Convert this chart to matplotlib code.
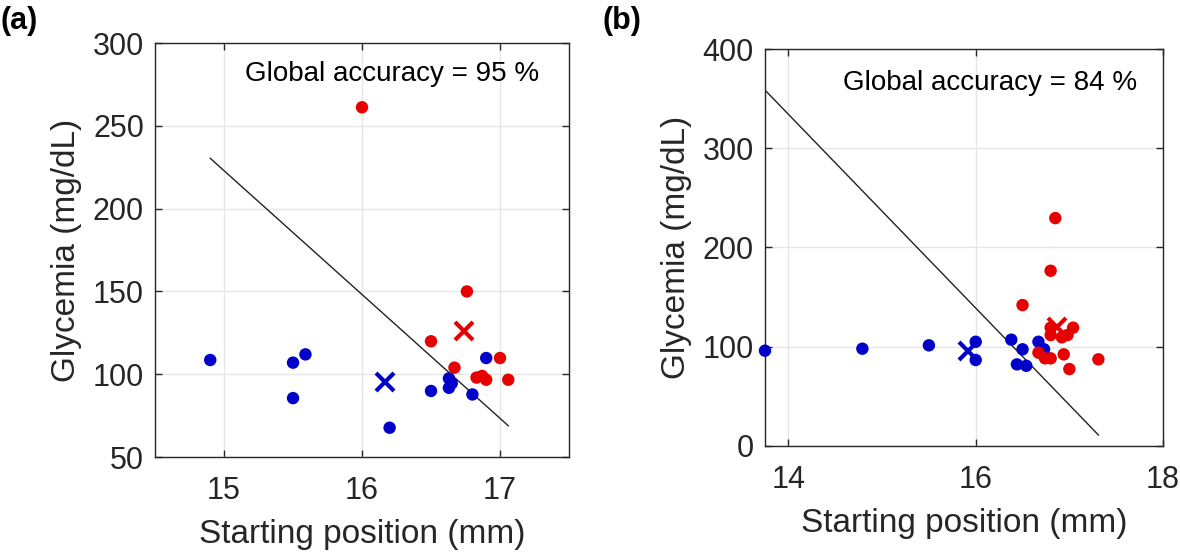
import matplotlib
matplotlib.use("Agg")
import matplotlib.pyplot as plt

plt.rcParams["font.family"] = ["Liberation Sans", "DejaVu Sans"]

# Panel (a) data
a_blue_x = [14.90, 15.50, 15.59, 15.50, 16.20, 16.50, 16.63, 16.65, 16.63, 16.80, 16.90]
a_blue_y = [108.6, 107.0, 112.0, 85.6, 67.7, 89.9, 97.5, 94.5, 91.8, 87.8, 109.8]
a_red_x = [16.00, 16.76, 16.50, 16.67, 16.83, 16.87, 16.90, 17.00, 17.06]
a_red_y = [261.2, 150.0, 119.9, 104.0, 98.0, 99.0, 96.7, 109.8, 96.7]
a_blue_mean = (16.17, 95.1)
a_red_mean = (16.74, 126.3)
a_line_x = [14.90, 17.06]
a_line_y = [230.4, 68.9]
a_acc = 95

# Panel (b) data
b_blue_x = [13.75, 14.79, 15.50, 16.00, 16.00, 16.38, 16.50, 16.44, 16.54, 16.67, 16.73]
b_blue_y = [95.8, 97.8, 101.2, 104.8, 86.4, 106.9, 97.2, 82.0, 80.6, 104.8, 97.2]
b_red_x = [16.85, 16.80, 16.50, 16.80, 16.80, 16.92, 16.98, 17.04, 16.67, 16.74, 16.80, 16.94, 17.00, 17.31]
b_red_y = [229.5, 176.4, 141.8, 119.0, 111.6, 109.3, 111.6, 119.0, 93.8, 88.1, 88.1, 92.1, 77.3, 87.1]
b_blue_mean = (15.92, 95.8)
b_red_mean = (16.87, 120.0)
b_line_x = [13.75, 17.31]
b_line_y = [358.6, 10.8]
b_acc = 84

BLUE = "#0000c8"
RED = "#e60000"


def draw_panel(ax, bx, by, rx, ry, bm, rm, lx, ly, acc, text_xy):
    ax.plot(lx, ly, color="#222222", lw=1.0, zorder=2)
    ax.scatter(bx, by, s=80, color=BLUE, edgecolors="none", zorder=3, clip_on=False)
    ax.scatter(rx, ry, s=80, color=RED, edgecolors="none", zorder=3, clip_on=False)
    ax.plot(*bm, marker="x", ms=13, mew=3, color=BLUE, ls="none", zorder=4)
    ax.plot(*rm, marker="x", ms=13, mew=3, color=RED, ls="none", zorder=4)
    ax.text(text_xy[0], text_xy[1], "Global accuracy = %d %%" % acc,
            fontsize=20, ha="left", va="center", color="black")
    ax.grid(True, color="#e6e6e6", lw=1.0)
    ax.set_axisbelow(True)
    ax.tick_params(direction="in", length=5, width=1, labelsize=22,
                   top=True, right=True, colors="#262626", labelcolor="#262626")
    ax.tick_params(axis="y", pad=8)
    ax.tick_params(axis="x", pad=14)
    for s in ax.spines.values():
        s.set_color("#262626")
        s.set_linewidth(1.0)
    ax.set_xlabel("Starting position (mm)", fontsize=24, color="#262626", labelpad=9)
    ax.set_ylabel("Glycemia (mg/dL)", fontsize=24, color="#262626", labelpad=8)


fig = plt.figure(figsize=(11.8, 5.54), dpi=100)

ax1 = fig.add_axes([0.1314, 0.175, 0.3508, 0.7473])
draw_panel(ax1, a_blue_x, a_blue_y, a_red_x, a_red_y, a_blue_mean, a_red_mean,
           a_line_x, a_line_y, a_acc, (15.15, 281.3))
ax1.set_xlim(14.5, 17.5)
ax1.set_ylim(50, 300)
ax1.set_xticks([15, 16, 17])
ax1.set_yticks([50, 100, 150, 200, 250, 300])

ax2 = fig.add_axes([0.6483, 0.1955, 0.3373, 0.716])
draw_panel(ax2, b_blue_x, b_blue_y, b_red_x, b_red_y, b_blue_mean, b_red_mean,
           b_line_x, b_line_y, b_acc, (14.58, 365.3))
ax2.set_xlim(13.75, 18)
ax2.set_ylim(0, 400)
ax2.set_xticks([14, 16, 18])
ax2.set_yticks([0, 100, 200, 300, 400])

fig.text(0.0, 0.99, "(a)", fontsize=22, fontweight="bold", ha="left", va="top")
fig.text(0.511, 0.99, "(b)", fontsize=22, fontweight="bold", ha="left", va="top")

fig.savefig("out.png", dpi=100)
